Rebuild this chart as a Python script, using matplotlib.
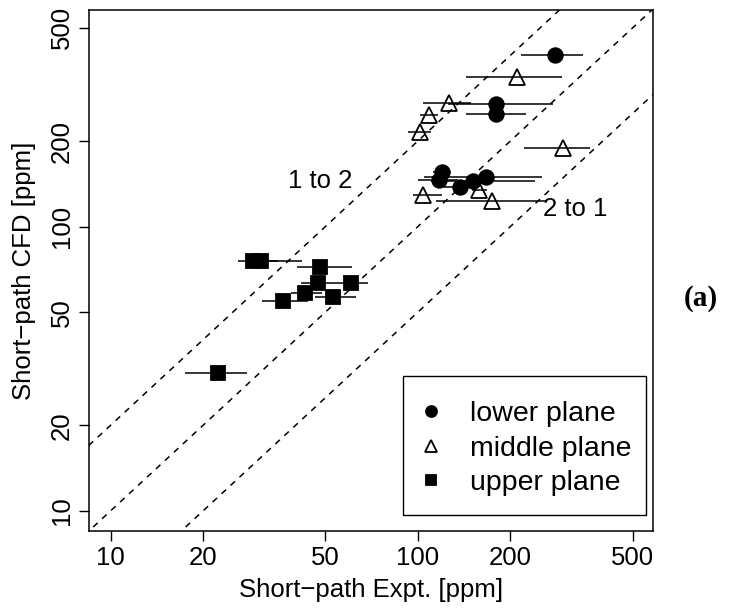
import matplotlib
matplotlib.use("Agg")
import matplotlib.pyplot as plt
from matplotlib.ticker import FixedLocator, FixedFormatter, NullLocator
from matplotlib.patches import Rectangle
import numpy as np

# lower plane (filled circles): x, y and horizontal error-bar ends
lower_x = [280, 180, 180, 120, 117, 137, 151, 167]
lower_y = [402, 270, 249, 156, 146, 138, 145, 150]
lower_lo = [216, 125, 143, 112, 100, 122, 110, 105]
lower_hi = [346, 276, 225, 128, 135, 155, 240, 254]

# middle plane (open triangles)
middle_x = [210, 126.5, 109, 101.7, 297, 104, 158.6, 174]
middle_y = [337, 272, 247, 216, 189, 129, 134.6, 123.5]
middle_lo = [143, 104, 101.5, 93, 221, 96.5, 150, 115]
middle_hi = [294, 149, 116, 110, 364, 120, 168, 262]

# upper plane (filled squares)
upper_x = [29.1, 30.8, 48.1, 47.5, 60.5, 43, 53.1, 36.3, 22.4]
upper_y = [75.4, 75.4, 72.3, 63.5, 63.5, 58.4, 56.5, 54.9, 30.5]
upper_lo = [26, 28, 40.3, 41.8, 51, 38.8, 46.3, 31, 17.5]
upper_hi = [35, 42, 60.9, 51, 68.8, 48.6, 63, 44, 27.7]

ticks = [10, 20, 50, 100, 200, 500]
tick_labels = ["10", "20", "50", "100", "200", "500"]
ratios = [2.0, 1.0, 0.5]

plt.rcParams['font.family'] = ['Liberation Sans', 'DejaVu Sans']

fig = plt.figure(figsize=(7.43, 6.09), dpi=100)
ax = fig.add_axes([0.120, 0.1286, 0.759, 0.855])

line = np.array([1.0, 2000.0])
for r in ratios:
    ax.plot(line, r * line, color='black', lw=1.1, ls=(0, (4, 4)), zorder=1)


def draw(x, y, lo, hi, marker, face, size, label):
    x = np.array(x)
    err = [x - np.array(lo), np.array(hi) - x]
    ax.errorbar(x, y, xerr=err, fmt='none', ecolor='black', elinewidth=1.1,
                capsize=0, zorder=2)
    h, = ax.plot(x, y, ls='none', marker=marker, ms=size, mfc=face, mec='black',
                 mew=1.3, zorder=3, label=label)
    return h


h1 = draw(lower_x, lower_y, lower_lo, lower_hi, 'o', 'black', 10.5, 'lower plane')
h2 = draw(middle_x, middle_y, middle_lo, middle_hi, '^', 'none', 12, 'middle plane')
h3 = draw(upper_x, upper_y, upper_lo, upper_hi, 's', 'black', 9.5, 'upper plane')

ax.set_xscale('log')
ax.set_yscale('log')
ax.set_xlim(8.52, 583)
ax.set_ylim(8.52, 578)

for axis in (ax.xaxis, ax.yaxis):
    axis.set_major_locator(FixedLocator(ticks))
    axis.set_major_formatter(FixedFormatter(tick_labels))
    axis.set_minor_locator(NullLocator())

ax.tick_params(direction='out', length=7, width=1.0, labelsize=18.5, pad=4)
for lab in ax.get_yticklabels():
    lab.set_rotation(90)
    lab.set_va('center')

for s in ax.spines.values():
    s.set_linewidth(1.1)

ax.set_xlabel("Short\u2212path Expt. [ppm]", fontsize=18.5, labelpad=6)
ax.set_ylabel("Short\u2212path CFD [ppm]", fontsize=18.5, labelpad=10)

ax.text(48, 145, "1 to 2", fontsize=18.5, ha='center', va='center')
ax.text(325, 115, "2 to 1", fontsize=18.5, ha='center', va='center')

# legend box drawn separately so its padding can differ per direction
ax.add_patch(Rectangle((0.557, 0.030), 0.4306, 0.267, transform=ax.transAxes,
                       facecolor='white', edgecolor='black', lw=1.0, zorder=4))
leg = ax.legend(handles=[h1, h2, h3], loc='center',
                bbox_to_anchor=(0.7725, 0.1578), borderaxespad=0,
                fontsize=20.5, frameon=False, handlelength=0.9,
                handletextpad=0.95, borderpad=0, labelspacing=0.3,
                markerscale=0.75)
leg.set_zorder(5)

fig.text(701 / 743, 1 - 298 / 609, "(a)", fontsize=21, fontweight='bold',
         family='Liberation Serif', ha='center', va='center')

fig.savefig("out.png", dpi=100)
